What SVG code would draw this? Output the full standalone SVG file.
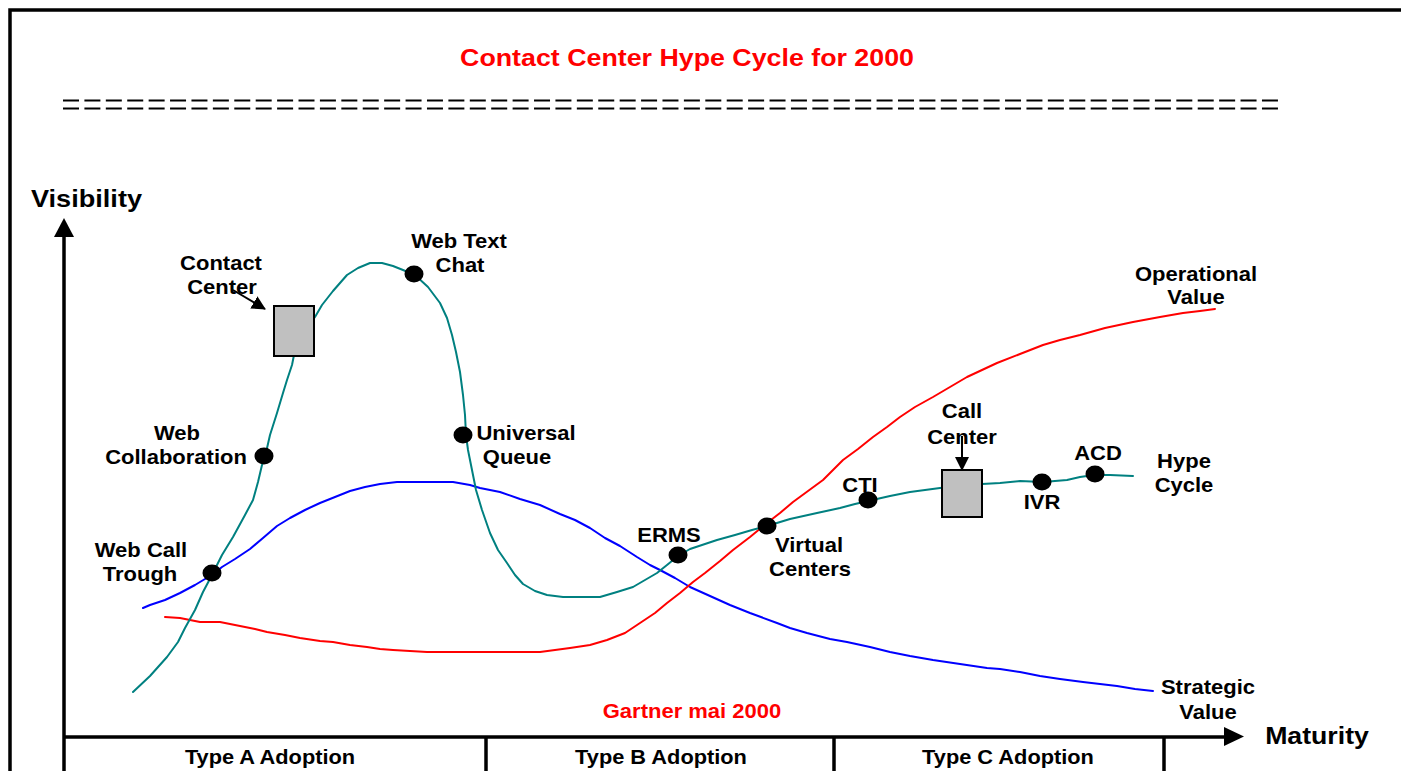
<svg xmlns="http://www.w3.org/2000/svg" width="1401" height="771" viewBox="0 0 1401 771">
  <style>
    text { font-family: "Liberation Sans", Arial, sans-serif; font-weight: bold; text-anchor: middle; fill: #000; }
    .lbl { font-size: 20px; }
    .axis-title { font-size: 23px; }
    .title { font-size: 23.5px; fill: #ff0000; }
    .red { fill: #ff0000; }
    .curve { fill: none; stroke-width: 2; stroke-linejoin: round; stroke-linecap: round; }
    .hype { stroke: #008080; }
    .strategic { stroke: #0000ff; }
    .operational { stroke: #ff0000; }
    .dot { fill: #000; }
    .box { fill: #c0c0c0; stroke: #000; stroke-width: 2; }
    .rule { stroke: #000; stroke-width: 2; stroke-dasharray: 16 5.41; }
    .frame { fill: none; stroke: #000; stroke-width: 3.5; }
    .axis { stroke: #000; stroke-width: 3.5; fill: none; }
    .pointer { stroke: #000; stroke-width: 2; fill: none; }
  </style>
  <defs>
    <marker id="head" viewBox="0 0 14 14" refX="13" refY="7" markerWidth="14" markerHeight="14" markerUnits="userSpaceOnUse" orient="auto">
      <path d="M0,0 L14,7 L0,14 Z" fill="#000"/>
    </marker>
  </defs>

  <rect width="1401" height="771" fill="#fff"/>

  <!-- outer frame -->
  <path class="frame" d="M10,771 V10 H1401"/>

  <!-- title and double rule -->
  <g id="title">
    <text class="title" transform="translate(687,66) scale(1.14,1)">Contact Center Hype Cycle for 2000</text>
    <line class="rule" x1="63" y1="100.5" x2="1278" y2="100.5"/>
    <line class="rule" x1="63" y1="108.5" x2="1278" y2="108.5"/>
  </g>

  <!-- axes -->
  <g id="axes">
    <line class="axis" x1="64" y1="771" x2="64" y2="234"/>
    <path d="M54,237 L64,218 L74,237 Z" fill="#000"/>
    <line class="axis" x1="64" y1="737" x2="1228" y2="737"/>
    <path d="M1224,727 L1244,736.5 L1224,746 Z" fill="#000"/>
    <line class="axis" x1="486" y1="737" x2="486" y2="771"/>
    <line class="axis" x1="834" y1="737" x2="834" y2="771"/>
    <line class="axis" x1="1164" y1="737" x2="1164" y2="771"/>
    <text class="axis-title" transform="translate(86.5,207) scale(1.18,1)">Visibility</text>
    <text class="axis-title" transform="translate(1317,744) scale(1.16,1)">Maturity</text>
    <text class="lbl" transform="translate(270,764) scale(1.09,1)">Type A Adoption</text>
    <text class="lbl" transform="translate(661,764) scale(1.09,1)">Type B Adoption</text>
    <text class="lbl" transform="translate(1008,764) scale(1.09,1)">Type C Adoption</text>
  </g>

  <!-- curves and pointers -->
  <g id="connectors">
    <path class="curve strategic" d="M143,608 L150,605 L165,600 L180,593 L195,585 L205,579 L212,575 L222,567 L235,559 L250,549 L263,538 L277,526 L290,518 L305,510 L320,503 L335,497 L350,491 L365,487 L380,484 L397,482 L453,482 L470,485 L480,488 L500,492 L520,499 L540,505 L560,514 L575,520 L590,528 L605,538 L620,546 L637,557 L650,565 L660,570 L675,578 L690,587 L710,596 L730,605 L750,613 L777,623 L790,628 L807,633 L830,639 L847,642 L870,647 L890,652 L910,656 L933,660 L960,664 L987,668 L1000,669 L1020,672 L1040,676 L1060,679 L1083,682 L1100,684 L1117,686 L1135,689 L1153,691"/>
    <path class="curve operational" d="M165,617 L180,618 L200,622 L220,622 L240,626 L255,629 L267,632 L285,635 L300,638 L320,641 L333,642 L350,645 L367,647 L380,649 L393,650 L410,651 L427,652 L540,652 L555,650 L570,648 L590,645 L607,640 L625,633 L640,623 L655,613 L667,603 L680,593 L693,582 L705,573 L720,561 L733,550 L750,537 L767,523 L780,513 L793,502 L808,491 L823,480 L833,470 L843,460 L858,449 L873,437 L887,427 L900,417 L915,407 L933,397 L950,387 L967,377 L982,370 L997,363 L1020,354 L1043,345 L1060,340 L1080,335 L1105,328 L1133,322 L1160,317 L1183,313 L1200,311 L1215,309"/>
    <path class="curve hype" d="M133,692 L150,676 L167,657 L178,642 L185,628 L195,610 L203,592 L212,575 L222,555 L233,537 L245,515 L253,500 L258,482 L262,465 L265,457 L270,435 L277,413 L283,393 L287,380 L292,365 L295,350 L305,330 L315,317 L322,305 L333,291 L347,275 L358,268 L370,263 L382,263 L393,266 L403,270 L415,275 L428,287 L440,303 L447,318 L452,335 L456,352 L460,372 L463,395 L465,415 L466,435 L468,450 L472,470 L476,490 L482,510 L490,533 L498,550 L507,563 L515,575 L523,584 L535,591 L547,595 L563,597 L600,597 L617,592 L633,587 L645,580 L657,573 L667,565 L678,556 L690,549 L705,544 L717,540 L735,535 L752,530 L767,526 L790,519 L817,513 L840,508 L855,504 L868,501 L890,496 L910,492 L940,488 L960,486 L982,484 L1000,483 L1020,481 L1043,482 L1067,480 L1080,477 L1094,475 L1110,475 L1133,476"/>
    <line class="pointer" x1="233" y1="290" x2="265" y2="309" marker-end="url(#head)"/>
    <line class="pointer" x1="962" y1="436" x2="962" y2="470" marker-end="url(#head)"/>
  </g>

  <!-- technology markers -->
  <g id="contact-center">
    <rect class="box" x="274" y="306" width="40" height="50"/>
    <text class="lbl" transform="translate(221,270) scale(1.1,1)">Contact</text>
    <text class="lbl" transform="translate(222,294) scale(1.1,1)">Center</text>
  </g>
  <g id="call-center">
    <rect class="box" x="942" y="470" width="40" height="47"/>
    <text class="lbl" transform="translate(962,418) scale(1.1,1)">Call</text>
    <text class="lbl" transform="translate(962,444) scale(1.1,1)">Center</text>
  </g>
  <g id="web-call-trough">
    <ellipse class="dot" cx="212" cy="573" rx="9.5" ry="8.5"/>
    <text class="lbl" transform="translate(141,557) scale(1.1,1)">Web Call</text>
    <text class="lbl" transform="translate(140,581) scale(1.1,1)">Trough</text>
  </g>
  <g id="web-collaboration">
    <ellipse class="dot" cx="264" cy="456" rx="9.5" ry="8.5"/>
    <text class="lbl" transform="translate(177,440) scale(1.1,1)">Web</text>
    <text class="lbl" transform="translate(176,464) scale(1.1,1)">Collaboration</text>
  </g>
  <g id="web-text-chat">
    <ellipse class="dot" cx="414" cy="274" rx="9.5" ry="8.5"/>
    <text class="lbl" transform="translate(459,248) scale(1.1,1)">Web Text</text>
    <text class="lbl" transform="translate(460,272) scale(1.1,1)">Chat</text>
  </g>
  <g id="universal-queue">
    <ellipse class="dot" cx="463" cy="435" rx="9.5" ry="8.5"/>
    <text class="lbl" transform="translate(526,440) scale(1.1,1)">Universal</text>
    <text class="lbl" transform="translate(517,464) scale(1.1,1)">Queue</text>
  </g>
  <g id="erms">
    <ellipse class="dot" cx="678" cy="555" rx="9.5" ry="8.5"/>
    <text class="lbl" transform="translate(669,542) scale(1.1,1)">ERMS</text>
  </g>
  <g id="virtual-centers">
    <ellipse class="dot" cx="767" cy="526" rx="9.5" ry="8.5"/>
    <text class="lbl" transform="translate(809,552) scale(1.1,1)">Virtual</text>
    <text class="lbl" transform="translate(810,576) scale(1.1,1)">Centers</text>
  </g>
  <g id="cti">
    <ellipse class="dot" cx="868" cy="500" rx="9.5" ry="8.5"/>
    <text class="lbl" transform="translate(860,492) scale(1.1,1)">CTI</text>
  </g>
  <g id="ivr">
    <ellipse class="dot" cx="1042" cy="482" rx="9.5" ry="8.5"/>
    <text class="lbl" transform="translate(1042,509) scale(1.1,1)">IVR</text>
  </g>
  <g id="acd">
    <ellipse class="dot" cx="1095" cy="474" rx="9.5" ry="8.5"/>
    <text class="lbl" transform="translate(1098,460) scale(1.1,1)">ACD</text>
  </g>

  <!-- curve legends -->
  <g id="legend-hype">
    <text class="lbl" transform="translate(1184,468) scale(1.1,1)">Hype</text>
    <text class="lbl" transform="translate(1184,492) scale(1.1,1)">Cycle</text>
  </g>
  <g id="legend-operational">
    <text class="lbl" transform="translate(1196,281) scale(1.1,1)">Operational</text>
    <text class="lbl" transform="translate(1196,304) scale(1.1,1)">Value</text>
  </g>
  <g id="legend-strategic">
    <text class="lbl" transform="translate(1208,694) scale(1.1,1)">Strategic</text>
    <text class="lbl" transform="translate(1208,719) scale(1.1,1)">Value</text>
  </g>
  <g id="source">
    <text class="lbl red" transform="translate(692,718) scale(1.1,1)">Gartner mai 2000</text>
  </g>
</svg>
